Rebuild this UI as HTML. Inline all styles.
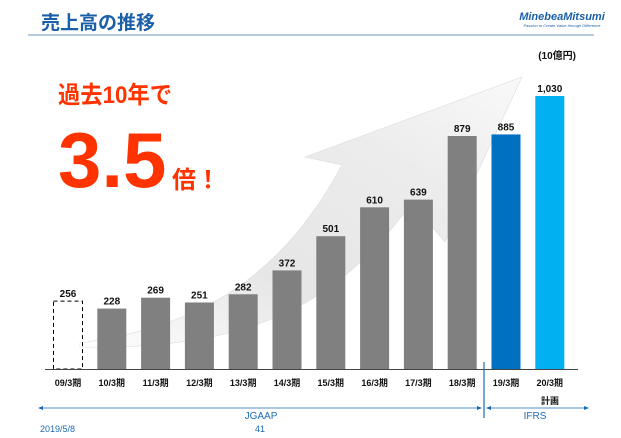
<!DOCTYPE html>
<html><head><meta charset="utf-8"><style>
body{margin:0;background:#fff;}
svg{display:block;font-family:"Liberation Sans","Noto Sans CJK JP",sans-serif;}
</style></head><body>
<svg id="chart" width="621" height="438" viewBox="0 0 621 438">
<defs>
<linearGradient id="ag" x1="0" y1="1" x2="1" y2="0">
<stop offset="0" stop-color="#ffffff"/>
<stop offset="0.35" stop-color="#e6e6e6"/>
<stop offset="0.7" stop-color="#ececec"/>
<stop offset="1" stop-color="#f9f9f9"/>
</linearGradient>
</defs>
<text x="41" y="29" font-size="19" font-weight="bold" fill="#1a5fa8">売上高の推移</text>
<text x="562" y="20" font-size="11" font-weight="bold" font-style="italic" fill="#1a5fa8" text-anchor="middle">MinebeaMitsumi</text>
<text x="562" y="27" font-size="4" font-style="italic" fill="#1a5fa8" text-anchor="middle">Passion to Create Value through Difference</text>
<line x1="28" y1="35" x2="594" y2="35" stroke="#6f98c4" stroke-width="1"/>
<text x="576" y="59" font-size="10" font-weight="bold" fill="#111" text-anchor="end">(10億円)</text>
<path d="M80,343 C170,330 270,300 342,165 L305,157 L522,77 L445,242 L412,203 C340,300 260,350 80,347 Z" fill="url(#ag)" stroke="#dcdcdc" stroke-width="0.6"/>
<text x="58" y="103" font-size="24" font-weight="bold" fill="#ff3300" textLength="114" lengthAdjust="spacingAndGlyphs">過去10年で</text>
<text x="58" y="187" font-size="78" font-weight="bold" fill="#ff3300">3.5</text>
<text x="172" y="188" font-size="24" font-weight="bold" fill="#ff3300">倍！</text>
<g id="bars"></g>
<line x1="45" y1="369.5" x2="578" y2="369.5" stroke="#444" stroke-width="1"/>
<line x1="484" y1="362" x2="484" y2="418" stroke="#1a6bb5" stroke-width="1.2"/>
<text x="550" y="404" font-size="9" font-weight="bold" fill="#111" text-anchor="middle">計画</text>
<g stroke="#1a6bb5" fill="#1a6bb5">
<line x1="40" y1="408" x2="480" y2="408" stroke-width="0.8"/>
<path d="M38,408 l5,-2 v4 z M482,408 l-5,-2 v4 z" stroke="none"/>
</g>
<g stroke="#1a6bb5" fill="#1a6bb5">
<line x1="488" y1="408" x2="587" y2="408" stroke-width="0.8"/>
<path d="M486,408 l5,-2 v4 z M589,408 l-5,-2 v4 z" stroke="none"/>
</g>
<text x="261" y="419" font-size="10" fill="#1a6bb5" text-anchor="middle">JGAAP</text>
<text x="535" y="419" font-size="10" fill="#1a6bb5" text-anchor="middle">IFRS</text>
<text x="40" y="432" font-size="9" fill="#1a6bb5">2019/5/8</text>
<text x="260" y="432" font-size="9" fill="#1a6bb5" text-anchor="middle">41</text>
</svg>
<script>
const categories=["09/3期","10/3期","11/3期","12/3期","13/3期","14/3期","15/3期","16/3期","17/3期","18/3期","19/3期","20/3期"];
const values=[256,228,269,251,282,372,501,610,639,879,885,1030];
const valueLabels=["256","228","269","251","282","372","501","610","639","879","885","1,030"];
const barTypes=["dashed","gray","gray","gray","gray","gray","gray","gray","gray","gray","ifrs","plan"];
const NS="http://www.w3.org/2000/svg";
const g=document.getElementById('bars');
const baseY=369, scale=273/1030;
const xC=i=>68+i*43.8;
const yV=v=>baseY-v*scale;
const fills={gray:"#808080",ifrs:"#0070c0",plan:"#00b0f0",dashed:"none"};
categories.forEach((c,i)=>{
  const w=29, x=xC(i)-w/2, y=yV(values[i]);
  const r=document.createElementNS(NS,'rect');
  
  
  r.setAttribute('x',x);r.setAttribute('y',y);r.setAttribute('width',w);r.setAttribute('height',baseY-y);
  r.setAttribute('fill',fills[barTypes[i]]);
  if(barTypes[i]==='dashed'){r.setAttribute('stroke','#000');r.setAttribute('stroke-dasharray','4,3');r.setAttribute('stroke-width','1');}
  g.appendChild(r);
  const t=document.createElementNS(NS,'text');
  
  
  t.setAttribute('x',xC(i));t.setAttribute('y',y-4);t.setAttribute('text-anchor','middle');
  t.setAttribute('font-size','10');t.setAttribute('font-weight','bold');t.setAttribute('fill','#111');
  t.textContent=valueLabels[i];g.appendChild(t);
  const l=document.createElementNS(NS,'text');
  
  
  l.setAttribute('x',xC(i));l.setAttribute('y',386);l.setAttribute('text-anchor','middle');
  l.setAttribute('font-size','9');l.setAttribute('font-weight','bold');l.setAttribute('fill','#111');
  l.textContent=c;g.appendChild(l);
});
</script>
</body></html>
